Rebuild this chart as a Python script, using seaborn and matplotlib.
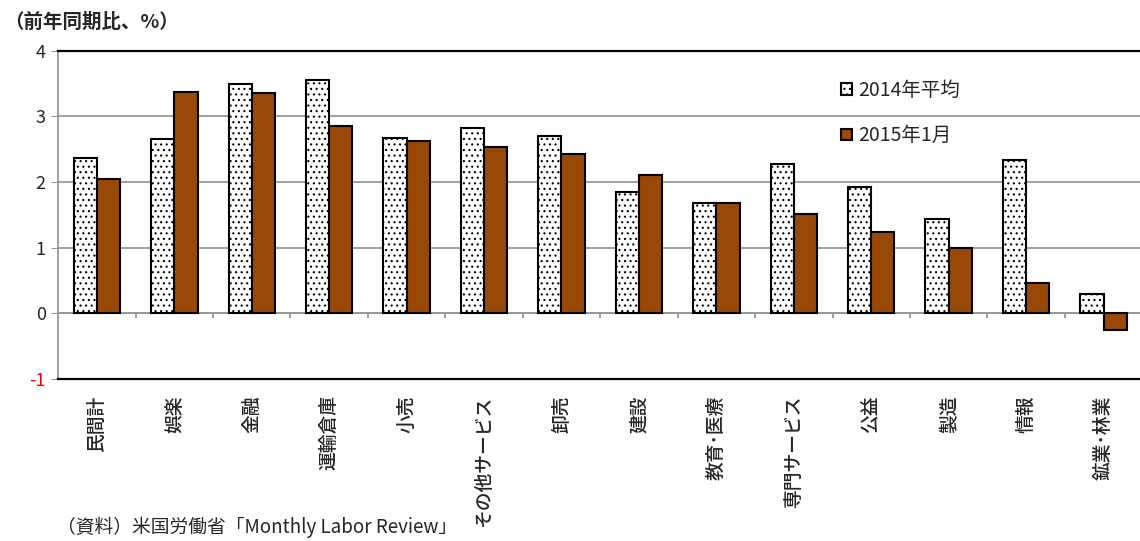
import numpy as np
import pandas as pd
import matplotlib
matplotlib.use('Agg')
import matplotlib.pyplot as plt
import seaborn as sns

##################################################################
categories = ['民間計', '娯楽', '金融', '運輸倉庫', '小売', 'その他サービス', '卸売',
              '建設', '教育･医療', '専門サービス', '公益', '製造', '情報', '鉱業･林業']
avg_2014 = [2.36, 2.65, 3.50, 3.56, 2.67, 2.82, 2.70, 1.85, 1.68, 2.28, 1.92, 1.43, 2.34, 0.29]
jan_2015 = [2.05, 3.38, 3.36, 2.85, 2.62, 2.53, 2.42, 2.11, 1.68, 1.51, 1.23, 1.00, 0.46, -0.25]
series = ['2014年平均', '2015年1月']
yticks = [-1, 0, 1, 2, 3, 4]
##################################################################
sns.set_style('white')
plt.rcParams['font.family'] = ['Noto Sans CJK JP', 'DejaVu Sans']
plt.rcParams['hatch.linewidth'] = 0.8

df = pd.DataFrame({'業種': categories * 2,
                   '値': avg_2014 + jan_2015,
                   '系列': [series[0]] * len(categories) + [series[1]] * len(categories)})

fig = plt.figure(figsize=[11.4, 5.41], dpi=100)
ax = fig.add_axes([0.051, 0.30, 0.951, 0.606])

colors = ['white', '#984807']
sns.barplot(data=df, x='業種', y='値', hue='系列', order=categories, hue_order=series,
            palette=colors, saturation=1, width=0.6, edgecolor='black', linewidth=1.5,
            ax=ax)

# dotted fill for the 2014 series
for bar in ax.containers[0]:
    bar.set_hatch('...')

ax.set_ylim(-1, 4)
ax.set_xlim(-0.5, len(categories) - 0.5)
ax.set_yticks(yticks)
ax.set_yticklabels([str(v) for v in yticks], fontsize=13)
for lab, v in zip(ax.get_yticklabels(), yticks):
    if v < 0:
        lab.set_color('red')
ax.grid(axis='y', color='#999999', lw=1.3)
ax.set_axisbelow(True)
ax.axhline(0, color='#999999', lw=1.3, zorder=0.5)
# small separator ticks under the zero line
ax.vlines(np.arange(1, len(categories)) - 0.5, -0.08, 0, color='#999999', lw=1.3)

ax.set_xlabel('')
ax.set_ylabel('')
ax.set_xticks(range(len(categories)))
ax.set_xticklabels(categories, rotation=90, va='top', ha='center', fontsize=13.5,
                   fontweight='medium')
ax.tick_params(axis='x', length=0, pad=12)
ax.tick_params(axis='y', length=5, color='#999999', left=True, pad=4)

ax.spines['top'].set_color('black')
ax.spines['top'].set_linewidth(1.6)
ax.spines['bottom'].set_color('black')
ax.spines['bottom'].set_linewidth(1.6)
ax.spines['left'].set_color('#999999')
ax.spines['left'].set_linewidth(1.3)
ax.spines['right'].set_visible(False)

ax.legend(ax.containers, series, loc='upper left', bbox_to_anchor=(0.715, 0.935),
          frameon=False, fontsize=14, handlelength=0.55, handleheight=0.55,
          handletextpad=0.35, labelspacing=1.25, borderaxespad=0)

fig.text(0.004, 0.958, '（前年同期比、%）', fontsize=14, fontweight='bold', ha='left', va='center')
fig.text(0.05, 0.044, '（資料）米国労働省「Monthly Labor Review」', fontsize=13.5, ha='left', va='top')

plt.savefig('out.png', dpi=100)
